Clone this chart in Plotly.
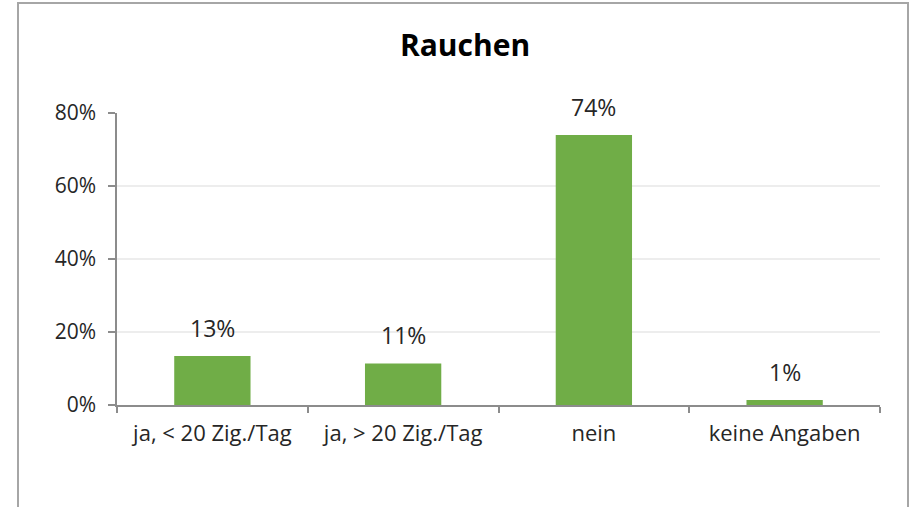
import plotly.graph_objects as go

categories = ["ja, < 20 Zig./Tag", "ja, > 20 Zig./Tag", "nein", "keine Angaben"]
values = [13.4, 11.4, 74.0, 1.4]
y_ticks = [0, 20, 40, 60, 80]
title_text = "Rauchen"

FONT = "'Open Sans', 'Noto Sans', sans-serif"
TXT = "#262626"

fig = go.Figure()
fig.add_trace(go.Bar(
    x=categories, y=values,
    marker=dict(color="#70ad47", line=dict(width=0)),
    hoverinfo="skip",
))

for c, v in zip(categories, values):
    fig.add_annotation(x=c, y=v, text=f"{round(v)}%", showarrow=False,
                       yshift=28, font=dict(family=FONT, size=23, color=TXT))

# outer chart-area border (plot area is 763 x 292 px, starting at 117, 113)
fig.add_shape(type="rect", xref="paper", yref="paper",
              x0=(18 - 117) / 763, x1=(908 - 117) / 763,
              y0=-0.6, y1=(405 - 3) / 292,
              line=dict(color="#a6a6a6", width=2), layer="below")

fig.update_layout(
    width=917, height=507,
    margin=dict(l=117, r=37, t=113, b=102),
    paper_bgcolor="white", plot_bgcolor="white",
    bargap=0.6,
    showlegend=False,
    title=dict(text=f"<b>{title_text}</b>", x=465 / 917, xref="container", xanchor="center",
               y=1 - 45 / 507, yref="container", yanchor="middle",
               font=dict(family=FONT, size=30, color="#000000")),
    font=dict(family=FONT, color=TXT),
)
fig.update_xaxes(
    showline=True, linecolor="#8c8c8c", linewidth=1.5,
    ticks="outside", tickson="boundaries", ticklen=6, tickcolor="#8c8c8c", tickwidth=1.5,
    tickfont=dict(family=FONT, size=22, color=TXT),
    showgrid=False, range=[-0.5, 3.5], fixedrange=True,
    ticklabelstandoff=8,
)
fig.update_yaxes(
    range=[0, 80], tickvals=y_ticks, ticktext=[f"{t}%" for t in y_ticks],
    showline=True, linecolor="#8c8c8c", linewidth=1.5,
    ticks="outside", ticklen=7, tickcolor="#8c8c8c", tickwidth=1.5,
    gridcolor="#ededed", gridwidth=1.5, zeroline=False,
    tickfont=dict(family=FONT, size=21, color=TXT),
    ticklabelstandoff=8, fixedrange=True,
)

fig.write_html("out.html", config={"displayModeBar": False},
               post_script="document.body.style.margin='0';")
